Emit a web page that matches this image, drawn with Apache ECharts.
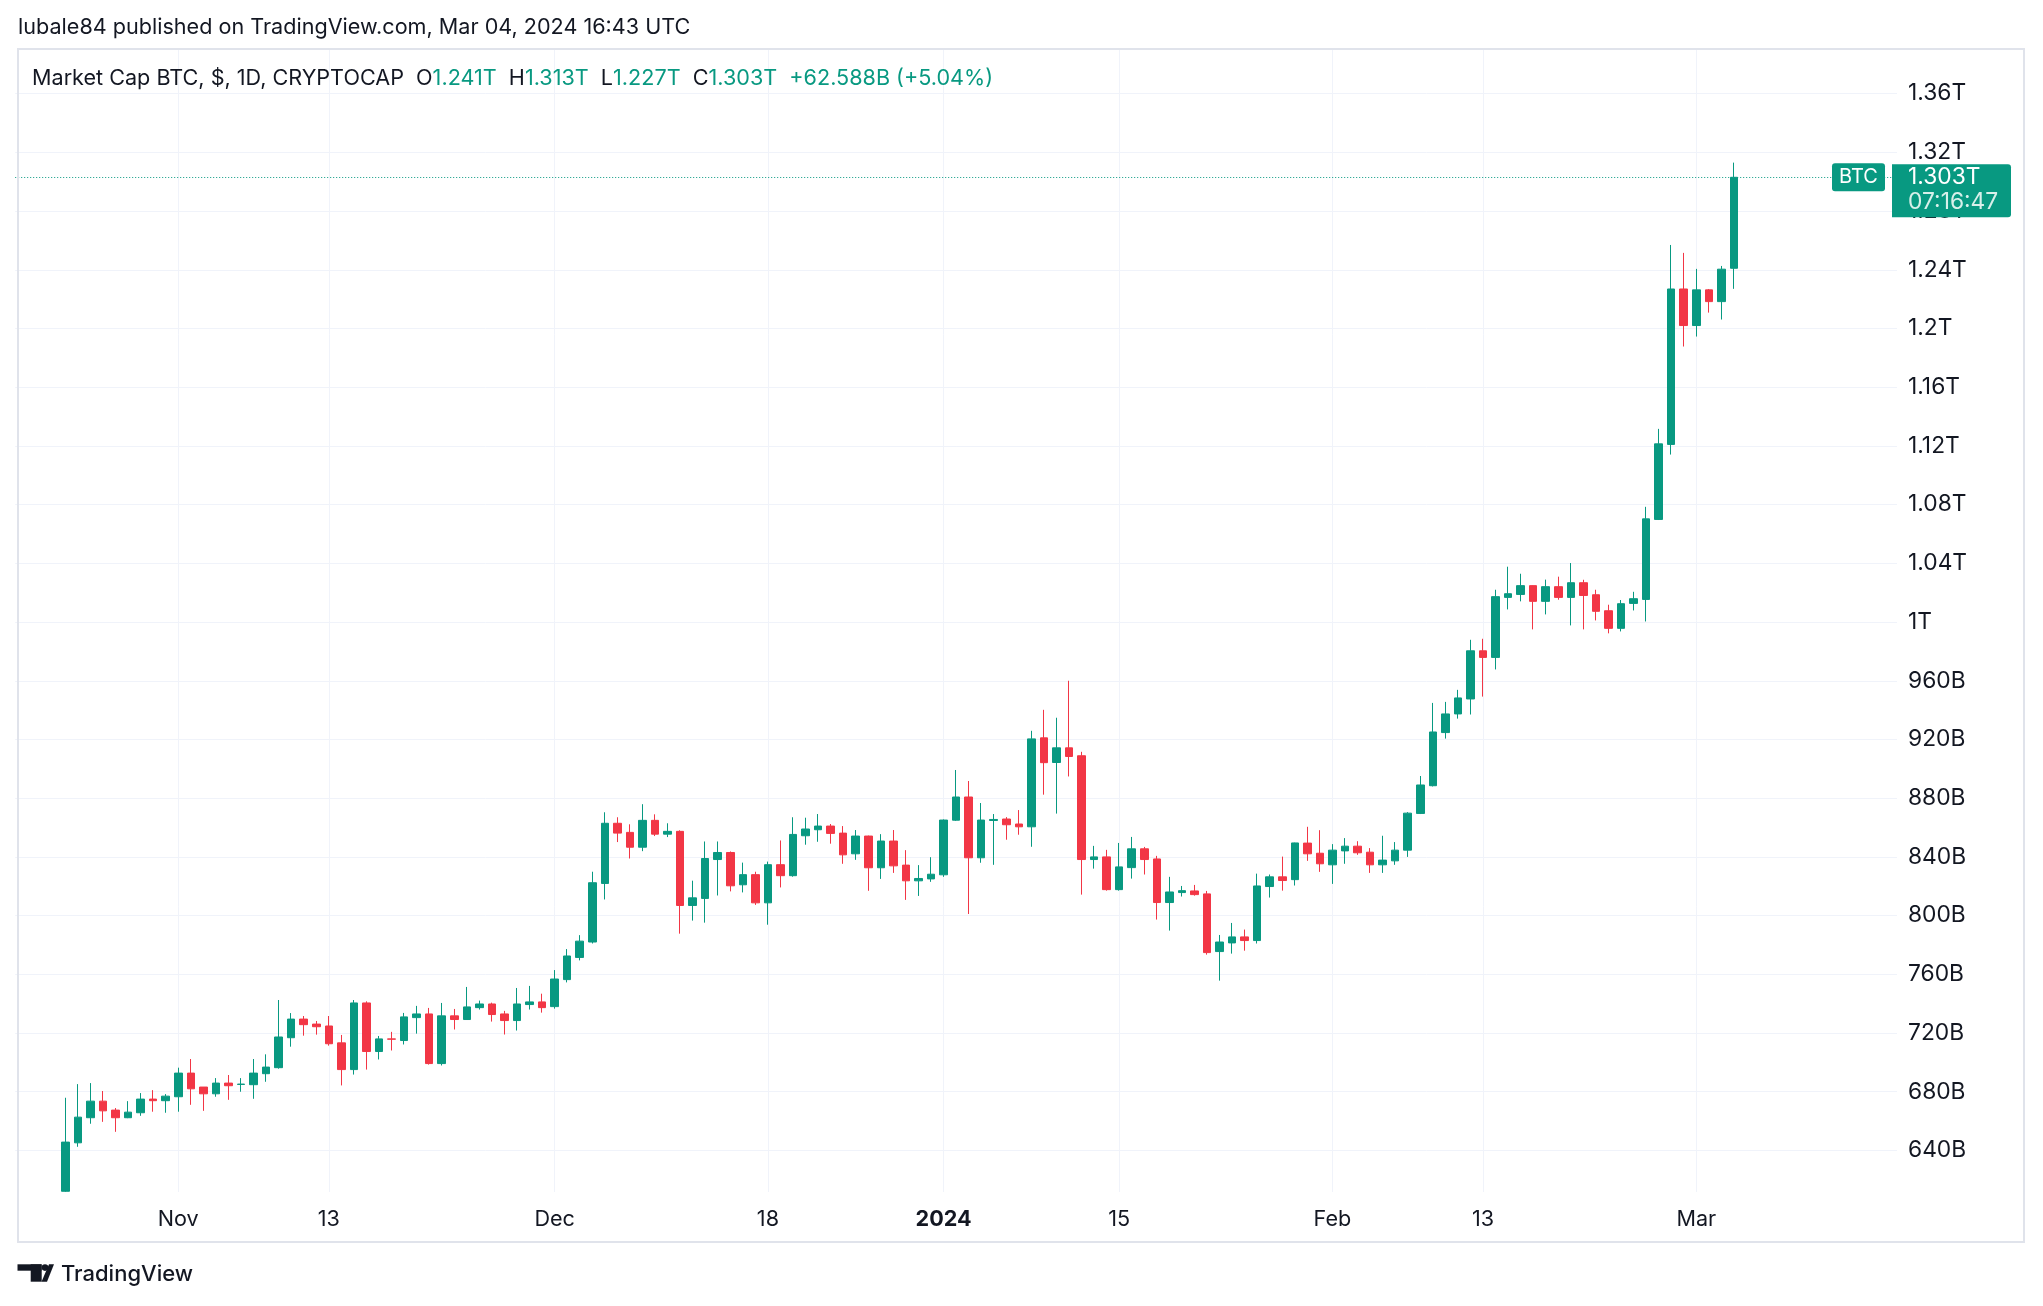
<!DOCTYPE html>
<html><head><meta charset="utf-8">
<script src="https://cdn.jsdelivr.net/npm/echarts@6/dist/echarts.min.js"></script>
<style>html,body{margin:0;padding:0;background:#fff;}#c{width:2043px;height:1306px;}</style>
</head><body><div id="c"></div>
<script>
// ---- data (values in billions USD) ----
const firstDate = '2023-10-23';
const opens = [612.2,645.2,662.3,673.6,667.5,662.3,665.7,675,673.9,676.6,692.7,683.2,678.6,685.9,685,684.8,692.3,696.4,716.8,729.5,726.1,724.8,713.3,695.1,740.5,707.4,716,714.9,730.5,733,699.2,731.7,729.2,737.3,739.8,733,728.5,739.4,741.2,738,756.4,771.5,782,821.9,862.9,856.7,846.6,864.9,855.5,857.4,806.9,811.7,838.2,843,821,827.9,808.7,834.7,827.2,854.4,858.5,861,856.2,842.1,854.2,832.6,850.8,834.4,823.7,825,827.8,865,880.8,839.4,864.8,865.8,862.4,860.5,921.1,904.3,914.3,908.9,838.2,840,817.7,832.7,845.5,838.6,808.9,815.7,816.8,814.8,775.5,781.4,785.5,783,819.8,826.4,824.5,849.4,842.5,834.6,844.1,847.3,843.2,834.6,837.3,844.6,869.6,888.5,924.7,937.4,947.6,980.4,975.9,1016.8,1018.8,1024.8,1014.1,1024.1,1016.8,1026.8,1018.6,1007.7,995.7,1012.7,1015.4,1069.9,1121,1226.9,1202,1226.3,1218.3,1241];
const closes = [645.7,662.7,673.6,667,662.3,666.1,675,673.9,677,692.7,682,678.6,685.9,684.1,685.2,692.7,696.8,717.3,729.5,725.7,724.3,712.7,695.1,740.5,707.4,716,715.8,731,733,699.2,731.7,729.2,737.8,739.8,732.6,728.5,739.8,741.2,737.3,756.8,772.5,782.6,822.4,862.9,856.2,846.6,864.9,855.5,857.4,806.9,812.1,838.9,843,820.3,827.9,808.7,834.7,827.2,855.3,859,861,856,841.4,854.2,832.6,850.8,833.9,823.7,825.3,828.2,865.1,880.8,839.4,865.1,865.5,861.9,860.5,920.4,904.2,914.3,908.4,838.2,840,817.7,833.2,845.5,838.2,808.9,816.1,817,814.3,774.8,782,785.5,783,820.2,826.4,823.9,849.5,842.1,835.3,844.6,847.3,842.8,834.6,837.8,844.6,869.8,889,925.1,937.4,948.3,980.4,975.9,1017.3,1019.3,1024.8,1014.1,1024.1,1016.8,1026.8,1018.1,1007.3,995.7,1012.5,1015.9,1070.3,1121.4,1226.9,1202,1226.3,1218.3,1240.4,1303];
const lows = [611.8,642.5,658.2,659.5,652.7,662,663.6,666.4,665.7,666.4,671.1,667,676.6,674.5,680,675.2,686.8,695.7,710.7,718.2,718.9,711.4,684.3,691.7,695.1,702,708.1,712.2,719.6,698.5,697.9,722.4,729,736,727.8,719,721.7,736,733.9,736.6,754.5,769.5,781,811,850.1,838.9,843.9,854.2,853.5,787.7,796.6,795.2,813.7,816.5,815.8,807.3,793.8,819.2,826.5,848.3,850.3,849,835.3,838,816.9,825,829.1,810.7,813.4,823,826.4,864.5,801.1,836,834.6,851.7,855.1,846.9,882.4,869.5,894.8,814.3,832,817,817,825.2,828,797.3,789.8,813,813.6,773.4,755.7,774.1,776.1,781,812.3,817,820.5,837.3,829.8,821.6,835.3,841.4,829.1,829.1,834.6,840,869.2,888,920.6,934.2,937,949.2,967.7,1008.6,1014.1,995,1005.2,1015.2,997.7,995,1001.1,992.3,993.6,1007.9,1000.4,1069.5,1114.1,1187.7,1194.5,1210.8,1206.1,1227];
const highs = [675.9,685.2,685.9,680.5,668.9,673.6,679.1,681.1,678.4,696.4,702.3,683.2,689.3,691.4,689.3,702.3,705.5,742.5,733.6,731.6,728.2,731.6,718.7,742.5,741.6,718,720.8,733.7,738.5,737.1,740.5,736.4,751.4,742.1,740.7,735.1,750.7,752.1,746.8,762.9,777.2,786.7,829.9,870.4,867,862.2,875.9,869,862.9,858.1,823.8,850.5,850.5,843.7,836.1,829.9,836.8,851.2,867,866.7,869.2,862.4,861,858.3,854.5,855.5,858.3,844.6,834.4,839.8,865.5,899.2,891.7,876.7,869.2,867.1,871.9,925.9,940.2,934.8,960,911.6,847.5,844.8,849.5,853.6,846.8,840.7,826.4,820.2,820.9,816.8,786.8,795,790.5,828.6,828,840.2,849.7,860.5,858.2,848.7,852.8,850.7,846,854.4,850.1,870.5,895.1,944.9,945.6,953.8,987.9,988.6,1022,1037.7,1032.9,1025,1028.9,1030.9,1040.2,1028.8,1022,1011.8,1015,1020.6,1078.5,1131.6,1256.9,1251.5,1240.6,1226.9,1242.6,1313];
const priceTicks = [640,680,720,760,800,840,880,920,960,1000,1040,1080,1120,1160,1200,1240,1280,1320,1360];
const dateTicks = ['2023-11-01','2023-11-13','2023-12-01','2023-12-18','2024-01-01','2024-01-15','2024-02-01','2024-02-13','2024-03-01'];
const monthNames = ['Jan','Feb','Mar','Apr','May','Jun','Jul','Aug','Sep','Oct','Nov','Dec'];
const changeText = '+62.588B (+5.04%)';
const timerText = '07:16:47';
const padBefore = 4, padAfter = 13;

// ---- build axis categories ----
const DAY = 86400000;
const t0 = Date.parse(firstDate + 'T00:00:00Z');
function iso(t){ return new Date(t).toISOString().slice(0,10); }
const categories = [];
const candles = [];
for (let i = -padBefore; i < opens.length + padAfter; i++) {
  categories.push(iso(t0 + i * DAY));
  if (i >= 0 && i < opens.length) candles.push([opens[i], closes[i], lows[i], highs[i]]);
  else candles.push('-');
}
const UP = '#089981', DOWN = '#f23645', TXT = '#131722', GRIDC = '#f0f3fa';
const FONT = 'Inter';
const FS = 21.6;
function fmtPrice(v){ return v >= 1000 ? parseFloat((v/1000).toFixed(3)) + 'T' : Math.round(v) + 'B'; }
const isTick = (idx, val) => dateTicks.indexOf(val) >= 0;

const chart = echarts.init(document.getElementById('c'), null, {renderer:'canvas', width:2043, height:1306});
chart.setOption({
  backgroundColor: '#ffffff',
  animation: false,
  grid: {left: 15.2, right: 146, top: 49, bottom: 114, containLabel: false, outerBoundsMode: 'none'},
  xAxis: {
    type: 'category', data: categories, boundaryGap: false,
    axisLine: {show: false}, axisTick: {show: false},
    axisLabel: {
      interval: isTick, margin: 16, color: TXT, fontSize: FS, fontFamily: FONT,
      formatter: function(v){
        const m = +v.slice(5,7), d = +v.slice(8,10);
        if (d === 1) return m === 1 ? '{b|' + v.slice(0,4) + '}' : monthNames[m-1];
        return String(d);
      },
      rich: {b: {fontWeight: 'bold', fontSize: FS, fontFamily: FONT, color: TXT}}
    },
    splitLine: {show: true, interval: isTick, lineStyle: {color: GRIDC, width: 1}}
  },
  yAxis: {
    type: 'value', position: 'right', min: 611.7, max: 1390.4,
    axisLine: {show: false},
    axisTick: {show: false, customValues: priceTicks},
    axisLabel: {customValues: priceTicks, margin: 11, color: TXT, fontSize: 22.8, fontFamily: FONT, formatter: fmtPrice},
    splitLine: {show: true, lineStyle: {color: GRIDC, width: 1}}
  },
  series: [{
    type: 'candlestick', data: candles, barWidth: 8, clip: true,
    itemStyle: {color: UP, color0: DOWN, borderColor: UP, borderColor0: DOWN, borderWidth: 1},
    markLine: {
      silent: true, symbol: ['none','none'], label: {show: false},
      lineStyle: {color: UP, type: [1,2], width: 1},
      data: [{yAxis: closes[closes.length-1]}]
    }
  }]
});

const last = opens.length - 1;
const yPix = chart.convertToPixel({yAxisIndex: 0}, closes[last]);
const base = {fontSize: FS, fontFamily: FONT};
chart.setOption({
  graphic: [
    {type:'text', x:18, y:27, silent:true, style:Object.assign({text:'lubale84 published on TradingView.com, Mar 04, 2024 16:43 UTC', fill:TXT, verticalAlign:'middle'}, base)},
    {type:'text', x:32, y:78, silent:true, style:Object.assign({
      text:'{d|Market Cap BTC, $, 1D, CRYPTOCAP}  {d|O}{g|' + fmtPrice(opens[last]) + '}  {d|H}{g|' + fmtPrice(highs[last]) + '}  {d|L}{g|' + fmtPrice(lows[last]) + '}  {d|C}{g|' + fmtPrice(closes[last]) + '}  {g|' + changeText + '}',
      verticalAlign:'middle',
      rich:{d:Object.assign({fill:TXT}, base), g:Object.assign({fill:UP}, base)}
    }, base)},
    {type:'rect', silent:true, z:100, shape:{x:18, y:49, width:2006, height:1193}, style:{fill:'none', stroke:'#e0e3eb', lineWidth:2}},
    {type:'rect', silent:true, z:110, shape:{x:1832, y:yPix-14, width:53, height:28, r:3}, style:{fill:UP}},
    {type:'text', silent:true, z:111, x:1858.5, y:yPix, style:Object.assign({text:'BTC', fill:'#fff', align:'center', verticalAlign:'middle'}, base, {fontSize:20})},
    {type:'rect', silent:true, z:110, shape:{x:1892, y:yPix-13, width:119, height:53, r:[0,3,3,0]}, style:{fill:UP}},
    {type:'text', silent:true, z:111, x:1908, y:yPix, style:Object.assign({text:fmtPrice(closes[last]), fill:'#fff', verticalAlign:'middle'}, base, {fontSize:22.8})},
    {type:'text', silent:true, z:111, x:1908, y:yPix+25, style:Object.assign({text:timerText, fill:'#d8f0ea', verticalAlign:'middle'}, base, {fontSize:22.8})},
    // TradingView logo
    {type:'rect', silent:true, shape:{x:17.5, y:1264.3, width:24, height:6.4}, style:{fill:TXT}},
    {type:'rect', silent:true, shape:{x:30.7, y:1264.3, width:11, height:17.4}, style:{fill:TXT}},
    {type:'circle', silent:true, shape:{cx:45, cy:1267.6, r:3.3}, style:{fill:TXT}},
    {type:'polygon', silent:true, shape:{points:[[49,1264.3],[54,1264.3],[47,1281.7],[41.5,1281.7]]}, style:{fill:TXT}},
    {type:'text', silent:true, x:61, y:1274, style:{text:'TradingView', fill:TXT, fontSize:22, fontFamily:FONT, fontWeight:500, verticalAlign:'middle'}}
  ]
});
</script>
</body></html>
